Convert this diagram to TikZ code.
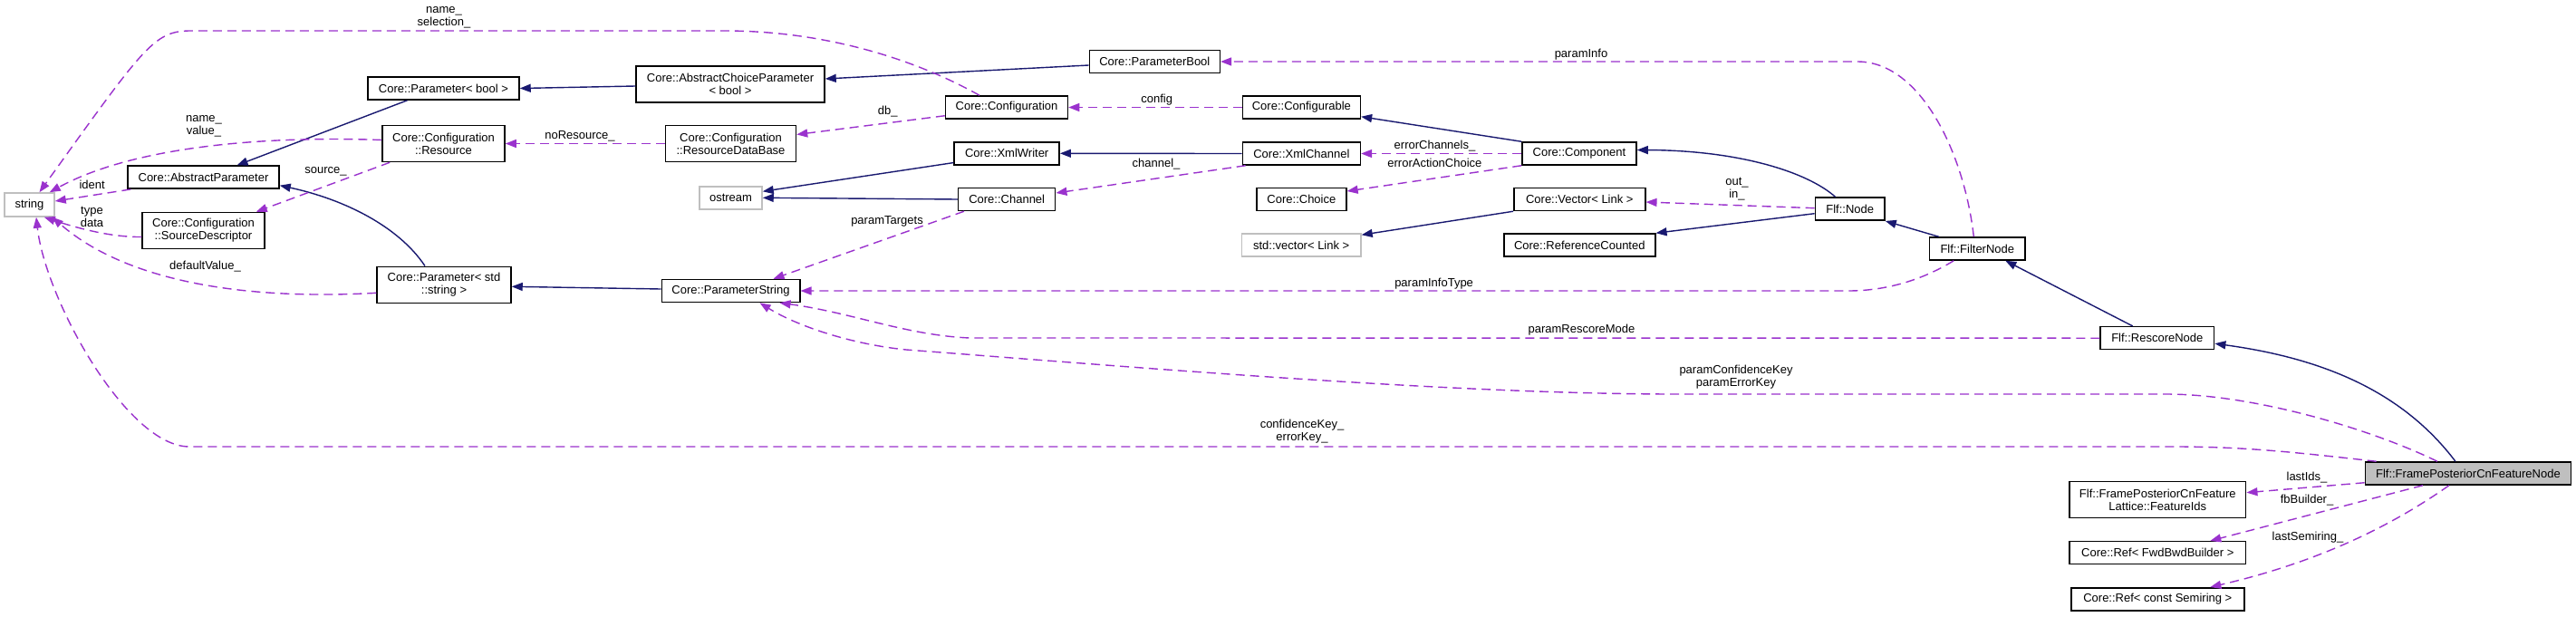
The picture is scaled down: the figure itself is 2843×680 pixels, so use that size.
\documentclass[tikz,border=0pt]{standalone}
\usepackage{fontspec}
\setmainfont{Liberation Sans}
\usepackage{tikz}
\usetikzlibrary{arrows.meta}
\definecolor{edgeblue}{RGB}{25,25,112}
\definecolor{edgepurple}{RGB}{154,50,205}
\definecolor{boxgray}{RGB}{191,191,191}

\begin{document}
\begin{tikzpicture}[x = 1pt, y = -1pt, font = \fontsize{13}{14}\selectfont,
        cls/.style = {rectangle, draw = black, line width = 1.5pt, inner sep = 0pt, minimum height = 25pt, align = center},
        ext/.style = {cls, draw = boxgray},
        inherit/.style = {draw = edgeblue, line width = 1.4pt, -{Triangle[length = 12pt, width = 9pt]}},
        member/.style = {draw = edgepurple, line width = 1.4pt, dash pattern = on 10pt off 6pt, -{Triangle[length = 12pt, width = 9pt]}},
        lbl/.style = {inner sep = 0pt, align = center}]

        \useasboundingbox (0, 0) rectangle (2843, 680);
        \fill [white] (0, 0) rectangle (2843, 680);

        \node (str) [ext, minimum width = 55pt, minimum height = 26pt] at (32.5, 226) {string};
        \node (absparam) [cls, minimum width = 167pt] at (224.5, 195.7) {Core::AbstractParameter};
        \node (srcdesc) [cls, minimum width = 135pt, minimum height = 40pt] at (224.5, 254.5) {Core::Configuration\\::SourceDescriptor};
        \node (pbool) [cls, minimum width = 167pt] at (489.5, 97.5) {Core::Parameter< bool >};
        \node (resource) [cls, minimum width = 135pt, minimum height = 40pt] at (489.5, 158.5) {Core::Configuration\\::Resource};
        \node (pstd) [cls, minimum width = 148pt, minimum height = 40pt] at (490, 314.3) {Core::Parameter< std\\::string >};
        \node (acpbool) [cls, minimum width = 208pt, minimum height = 40pt] at (806, 93) {Core::AbstractChoiceParameter\\< bool >};
        \node (resdb) [cls, minimum width = 144pt, minimum height = 40pt] at (806.5, 158.5) {Core::Configuration\\::ResourceDataBase};
        \node (ostream) [ext, minimum width = 69pt] at (806.5, 218.3) {ostream};
        \node (paramstring) [cls, minimum width = 152.5pt] at (806.5, 321) {Core::ParameterString};
        \node (parambool) [cls, minimum width = 144pt] at (1274.3, 68) {Core::ParameterBool};
        \node (config) [cls, minimum width = 135pt] at (1111, 118.5) {Core::Configuration};
        \node (xmlwriter) [cls, minimum width = 116pt] at (1111.2, 169.3) {Core::XmlWriter};
        \node (channel) [cls, minimum width = 107pt] at (1111.2, 220) {Core::Channel};
        \node (configurable) [cls, minimum width = 130pt] at (1436.4, 118.5) {Core::Configurable};
        \node (xmlchannel) [cls, minimum width = 130pt] at (1436.4, 169.5) {Core::XmlChannel};
        \node (choice) [cls, minimum width = 99pt] at (1436.4, 220) {Core::Choice};
        \node (stdvector) [ext, minimum width = 131.5pt] at (1436.2, 270.5) {std::vector< Link >};
        \node (component) [cls, minimum width = 126pt] at (1743, 169.5) {Core::Component};
        \node (vector) [cls, minimum width = 145pt] at (1743.3, 220) {Core::Vector< Link >};
        \node (refcounted) [cls, minimum width = 167pt] at (1743.3, 270.5) {Core::ReferenceCounted};
        \node (flfnode) [cls, minimum width = 76.6pt] at (2041.7, 230.7) {Flf::Node};
        \node (filternode) [cls, minimum width = 105.7pt] at (2182.3, 274.5) {Flf::FilterNode};
        \node (rescorenode) [cls, minimum width = 125.6pt] at (2380.8, 373.2) {Flf::RescoreNode};
        \node (featureids) [cls, minimum width = 194.8pt, minimum height = 40pt] at (2381.3, 551.7) {Flf::FramePosteriorCnFeature\\Lattice::FeatureIds};
        \node (fwdbwd) [cls, minimum width = 194.8pt] at (2381.3, 610.2) {Core::Ref< FwdBwdBuilder >};
        \node (semiring) [cls, minimum width = 191pt] at (2381.3, 661.3) {Core::Ref< const Semiring >};
        \node (fpcfn) [cls, fill = boxgray, minimum width = 227pt] at (2723.9, 522.5) {Flf::FramePosteriorCnFeatureNode};

        \draw [inherit] ([xshift = -40pt] pbool.south) -- ([xshift = 37pt] absparam.north);
        \draw [inherit] ([yshift = -2pt] acpbool.west) -- (pbool.east);
        \draw [inherit] ([yshift = -4pt] parambool.west) -- ([yshift = 6pt] acpbool.east);
        \draw [inherit] ([xshift = -21pt] pstd.north) .. controls (440, 250) and (380, 220) .. ([yshift = -9pt] absparam.east);
        \draw [inherit] ([yshift = 2pt] paramstring.west) -- ([yshift = -2pt] pstd.east);
        \draw [inherit] ([yshift = 3pt] xmlwriter.south west) -- ([yshift = 7pt] ostream.east);
        \draw [inherit] (channel.west) -- (ostream.east);
        \draw [inherit] (xmlchannel.west) -- (xmlwriter.east);
        \draw [inherit] (component.north west) -- ([yshift = 3pt] configurable.south east);
        \draw [inherit] ([xshift = -16pt] flfnode.north) .. controls (1995, 190) and (1920, 166) .. ([yshift = 4pt] component.east);
        \draw [inherit] (vector.south west) -- ([yshift = -2pt] stdvector.north east);
        \draw [inherit] ([yshift = -5pt] flfnode.west) -- (refcounted.north east);
        \draw [inherit] ([xshift = 11pt] filternode.north west) -- (flfnode.south east);
        \draw [inherit] ([xshift = -27pt] rescorenode.north) -- ([xshift = 31pt] filternode.south);
        \draw [inherit] ([xshift = -14pt] fpcfn.north) .. controls (2650, 430) and (2560, 395) .. ([yshift = -6pt] rescorenode.east);

        \draw [member] ([xshift = -4pt] filternode.north) .. controls (2168, 170) and (2120, 68) .. (2050, 68) -- (parambool.east);
        \draw [member] ([xshift = -30pt] config.north) .. controls (1000, 60) and (900, 34) .. (800, 34) -- (211, 34) .. controls (170, 34) and (160, 50) .. ([xshift = 11pt] str.north);
        \draw [member] (configurable.west) -- (config.east);
        \draw [member] ([yshift = 4pt] config.south west) -- ([yshift = 10pt] resdb.east);
        \draw [member] (resdb.west) -- (resource.east);
        \draw [member] ([yshift = 4pt] resource.west) .. controls (300, 150) and (150, 160) .. ([xshift = -6pt] str.north east);
        \draw [member] ([xshift = 9pt] resource.south west) -- ([xshift = -10pt] srcdesc.north east);
        \draw [member] ([xshift = 4pt] absparam.south west) -- ([yshift = 4pt] str.east);
        \draw [member] ([yshift = -7pt] srcdesc.west) .. controls (120, 262) and (80, 250) .. ([xshift = -12pt] str.south east);
        \draw [member] ([yshift = -9pt] pstd.west) .. controls (300, 330) and (150, 320) .. ([xshift = -3pt] str.south east);
        \draw [member] ([xshift = 13pt] fpcfn.north west) .. controls (2540, 500) and (2480, 493) .. (2400, 493) -- (209, 493) .. controls (140, 493) and (50, 330) .. ([xshift = 7.5pt] str.south);
        \draw [member] ([xshift = 4pt] xmlchannel.south west) -- ([yshift = 7pt] channel.east);
        \draw [member] ([xshift = 7pt] channel.south west) -- ([xshift = 47pt] paramstring.north);
        \draw [member] (component.west) -- (xmlchannel.east);
        \draw [member] (component.south west) -- ([yshift = 9pt] choice.east);
        \draw [member] ([yshift = 1pt] flfnode.west) -- ([yshift = -3pt] vector.east);
        \draw [member] ([xshift = 27.5pt] filternode.south west) .. controls (2120, 310) and (2080, 321) .. (2040, 321) -- (paramstring.east);
        \draw [member] (rescorenode.west) -- (1070, 373) .. controls (1000, 370) and (940, 345) .. ([xshift = -23pt] paramstring.south east);
        \draw [member] ([xshift = -34pt] fpcfn.north) .. controls (2620, 475) and (2490, 435) .. (2390, 435) -- (1850, 435) .. controls (1600, 435) and (1250, 405) .. (1000, 386) .. controls (940, 380) and (880, 360) .. ([xshift = 32pt] paramstring.south);
        \draw [member] ([yshift = 3pt] fpcfn.south west) -- ([yshift = 8pt] featureids.east);
        \draw [member] ([xshift = -50pt] fpcfn.south) -- ([xshift = 58pt] fwdbwd.north);
        \draw [member] ([xshift = -21pt] fpcfn.south) .. controls (2640, 580) and (2560, 620) .. ([xshift = 58pt] semiring.north);

        \node (lparaminfo) [lbl] at (1745, 60) {paramInfo};
        \node (lselection) [lbl] at (490, 19) {name\_\\selection\_};
        \node (lconfig) [lbl] at (1276.7, 110) {config};
        \node (ldb) [lbl] at (979.7, 123) {db\_};
        \node (lnoresource) [lbl] at (640, 150.7) {noResource\_};
        \node (lvalue) [lbl] at (225, 139.5) {name\_\\value\_};
        \node (lsource) [lbl] at (359.5, 189) {source\_};
        \node (lident) [lbl] at (101.7, 204) {ident};
        \node (ltypedata) [lbl] at (101.5, 239) {type\\data};
        \node (ldefault) [lbl] at (226.5, 294.3) {defaultValue\_};
        \node (lkeys) [lbl] at (1437, 476) {confidenceKey\_\\errorKey\_};
        \node (lchannel) [lbl] at (1276, 180.7) {channel\_};
        \node (ltargets) [lbl] at (979, 244) {paramTargets};
        \node (lerrchannels) [lbl] at (1583.5, 161) {errorChannels\_};
        \node (lerrchoice) [lbl] at (1583.4, 180.3) {errorActionChoice};
        \node (loutin) [lbl] at (1917, 208.3) {out\_\\in\_};
        \node (linfotype) [lbl] at (1582.6, 312.7) {paramInfoType};
        \node (lrescore) [lbl] at (1745.5, 364.3) {paramRescoreMode};
        \node (lparamkeys) [lbl] at (1916, 416) {paramConfidenceKey\\paramErrorKey};
        \node (llastids) [lbl] at (2546, 526.7) {lastIds\_};
        \node (lfbbuilder) [lbl] at (2546, 551.7) {fbBuilder\_};
        \node (lsemiring) [lbl] at (2547, 592.7) {lastSemiring\_};
\end{tikzpicture}
\end{document}
